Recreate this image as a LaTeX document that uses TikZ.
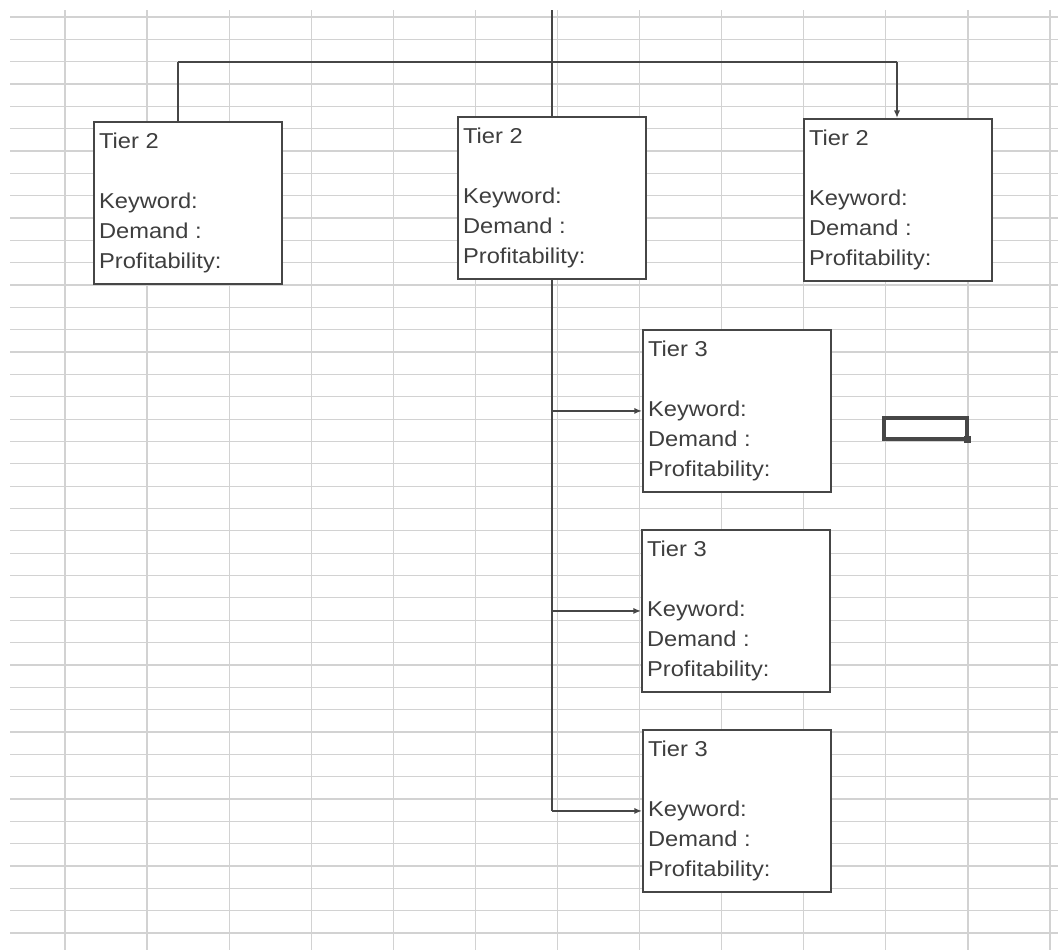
\documentclass[tikz,border=0pt]{standalone}
\usepackage{fontspec}
\setmainfont{Liberation Sans}[FakeStretch=1.1]
\usepackage{xcolor}
\usetikzlibrary{arrows.meta}

\definecolor{gridline}{RGB}{210,210,210}
\definecolor{inkline}{RGB}{70,70,70}
\definecolor{inktext}{RGB}{62,62,62}

% text of one tier cell
\newcommand{\tierlabel}[1]{%
  \parbox[t][4.05cm][t]{4.7cm}{\fontsize{15.3pt}{21.34pt}\selectfont
    \leftskip=0.13cm \baselineskip=21.34pt
    \rule{0pt}{0.67cm}#1\\[21.34pt]Keyword:\\Demand :\\Profitability:}}

\begin{document}
\begin{tikzpicture}[x=0.025cm, y=-0.025cm,
    >={Latex[length=5.5pt, width=4.5pt]},
    every node/.style={text=inktext},
    tier/.style={draw=inkline, line width=1.3pt, fill=white, anchor=north west,
      inner sep=0pt, minimum width=4.7cm, minimum height=4.05cm},
    link/.style={draw=inkline, line width=1.2pt},
    cellgrid/.style={draw=gridline, line width=0.9pt}]
    \useasboundingbox (0,0) rectangle (1058,950);

    % Sheet grid
    \foreach \k in {0,...,12}
      \draw[cellgrid] ({65+82.08*\k}, 10) -- ({65+82.08*\k}, 950);
    \foreach \k in {0,...,41}
      \draw[cellgrid] (10, {17+22.34*\k}) -- (1058, {17+22.34*\k});

    % Active cell
    \draw[draw=black!72, line width=2.3pt] (884,418) rectangle (967,439);
    \fill[black!72] (963.5,435.5) rectangle (970.5,442.5);

    % Tier 2
    \node[tier] (t2a) at (93,121)  {\tierlabel{Tier 2}};
    \node[tier] (t2b) at (457,116) {\tierlabel{Tier 2}};
    \node[tier] (t2c) at (803,118) {\tierlabel{Tier 2}};

    % Tier 3
    \node[tier] (t3a) at (642,329) {\tierlabel{Tier 3}};
    \node[tier] (t3b) at (641,529) {\tierlabel{Tier 3}};
    \node[tier] (t3c) at (642,729) {\tierlabel{Tier 3}};

    % Feed and bus
    \coordinate (feed) at (t2b.north |- 0,10);
    \coordinate (busl) at (178,62);
    \coordinate (busr) at (897,62);
    \draw[link] (feed) -- (t2b.north);
    \draw[link] (busl) -- (busr);
    \draw[link] (busl) -- (busl |- t2a.north);
    \draw[link, ->] (busr) -- (busr |- t2c.north);

    % Tier 3 branch
    \draw[link] (t2b.south) -- (t2b.south |- t3c.west);
    \foreach \n in {t3a, t3b, t3c}
      \draw[link, ->] (t2b.south |- \n.west) -- (\n.west);
\end{tikzpicture}
\end{document}
